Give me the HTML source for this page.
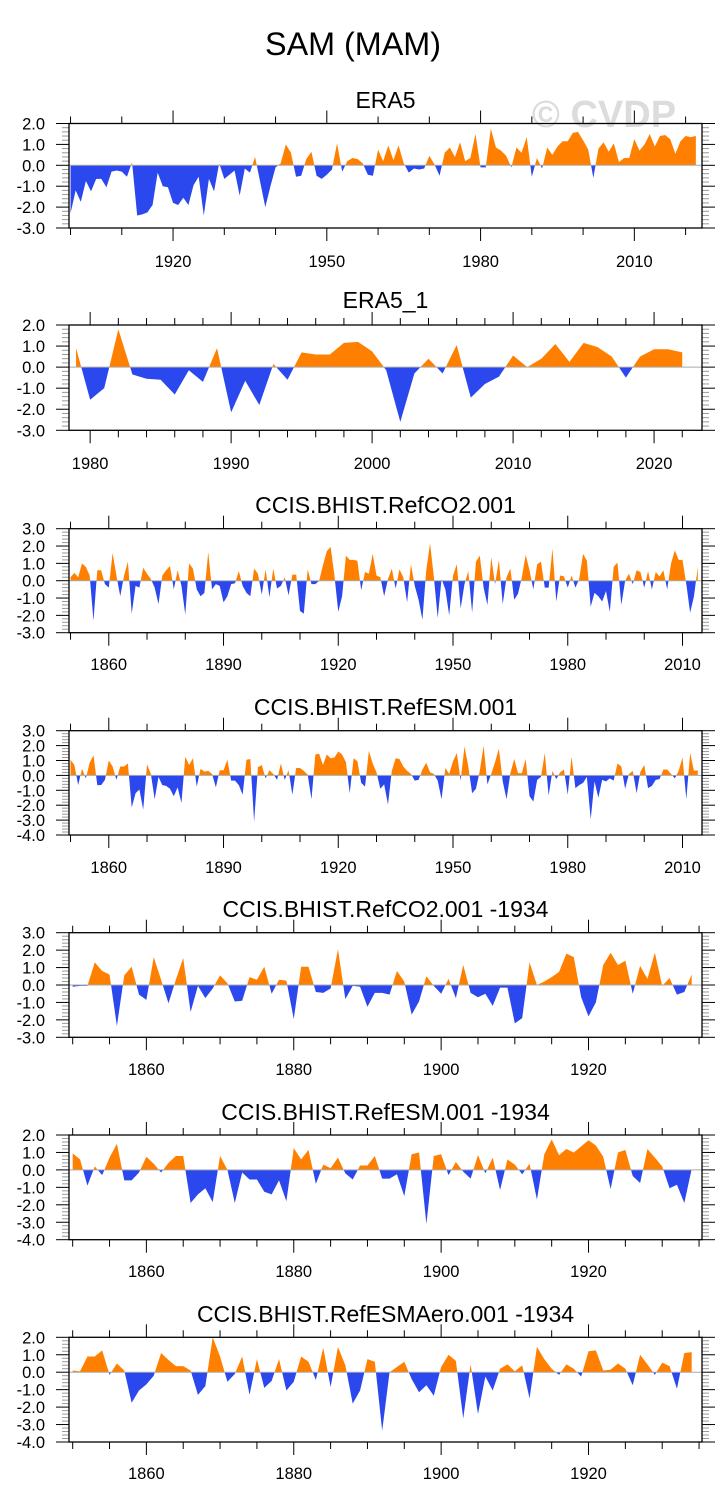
<!DOCTYPE html>
<html><head><meta charset="utf-8"><style>
html,body{margin:0;padding:0;background:#fff;}
svg{display:block;font-family:"Liberation Sans",Arial,sans-serif;}
</style></head><body>
<svg id="chart" width="728" height="1510" viewBox="0 0 728 1510" xmlns="http://www.w3.org/2000/svg">
<text x="353" y="55" font-size="32" text-anchor="middle" textLength="176" lengthAdjust="spacingAndGlyphs">SAM (MAM)</text>
<text x="604" y="127" font-size="38" font-weight="bold" fill="#dcdcdc" text-anchor="middle">© CVDP</text>
</svg>
<script>
const era5Start = 1900;
const era5Values = [-2.3,-1.2,-1.75,-0.75,-1.25,-0.65,-0.65,-1.05,-0.3,-0.25,-0.3,-0.55,0.15,-2.4,-2.35,-2.25,-1.9,-0.35,-1.0,-1.05,-1.8,-1.9,-1.55,-1.9,-0.95,-0.55,-2.4,-0.65,-1.25,0.1,-0.65,-0.45,-0.25,-1.45,-0.15,-0.35,0.4,-0.8,-2.0,-1.0,-0.1,0.1,1.0,0.6,-0.55,-0.5,0.3,0.65,-0.5,-0.65,-0.45,-0.2,1.05,-0.3,0.2,0.35,0.3,0.1,-0.45,-0.5,0.75,0.2,0.95,0.25,0.95,0.1,-0.35,-0.15,-0.2,-0.15,0.45,0.05,-0.5,0.6,0.85,0.4,1.1,0.2,0.35,1.5,-0.1,-0.1,1.75,0.85,0.7,0.45,-0.1,0.85,0.6,1.35,-0.55,0.35,-0.15,0.85,0.5,0.9,1.15,1.15,1.55,1.6,1.2,0.75,-0.6,0.8,1.1,0.65,1.05,0.15,0.35,0.35,1.25,0.7,1.0,1.5,0.9,1.4,1.45,1.25,0.55,1.15,1.4,1.35,1.4];
const era51Start = 1979;
const era51Values = [0.9,-1.55,-1.0,1.8,-0.35,-0.55,-0.6,-1.3,-0.15,-0.7,0.9,-2.15,-0.65,-1.8,0.15,-0.6,0.7,0.6,0.6,1.15,1.2,0.75,-0.15,-2.6,-0.3,0.4,-0.3,1.05,-1.45,-0.8,-0.45,0.55,0.0,0.4,1.1,0.25,1.15,0.95,0.5,-0.5,0.5,0.85,0.85,0.7];
const co2Start = 1850;
const co2Values = [0.2,0.45,0.2,1.0,0.8,0.3,-2.3,0.6,0.6,-0.2,-0.4,1.6,0.3,-0.9,0.3,1.1,-1.9,-0.3,-0.4,0.75,0.4,0.1,-0.4,-1.35,0.3,0.6,0.85,-0.5,0.6,-0.3,-1.95,1.0,0.7,-0.5,-0.9,-0.7,1.65,-0.5,-0.2,-0.3,-1.25,-0.9,-0.2,-0.15,0.55,-0.3,-0.7,-0.9,0.7,0.4,-0.8,0.65,-0.95,0.7,-0.45,-0.3,0.2,-0.85,0.35,0.35,-1.75,-1.9,0.65,-0.2,-0.2,0.0,0.9,1.7,1.95,0.3,-1.8,-0.9,1.45,1.2,1.2,1.15,-0.55,0.5,0.4,1.55,0.3,0.2,-0.9,0.1,0.7,-0.45,0.65,0.2,-1.25,0.95,-0.3,-1.1,-2.25,0.6,2.15,0.2,-2.15,0.1,-0.5,-2.0,0.3,0.95,-1.6,-0.2,0.55,-1.85,1.1,1.45,-0.4,-1.4,1.35,-0.2,1.2,-1.35,0.2,0.7,-1.1,-0.75,0.2,1.5,0.6,-0.5,0.95,1.1,-0.4,-0.4,1.85,-1.2,0.3,0.25,-0.4,0.3,-0.4,0.1,1.55,1.15,-1.5,-0.7,-0.9,-1.2,-0.6,-1.8,0.8,1.05,-1.4,0.0,0.4,-0.2,0.6,0.5,-0.4,0.55,-0.5,0.5,0.25,0.6,-0.5,1.0,1.75,1.2,1.2,-0.2,-1.85,-0.9,0.8];
const esmStart = 1850;
const esmValues = [1.05,0.7,-0.65,0.45,-0.2,0.85,1.35,-0.65,-0.65,-0.3,1.0,0.6,-0.3,0.6,0.6,0.8,-2.15,-1.2,-0.95,-2.3,0.75,0.1,-1.6,-0.1,-0.65,-0.7,-0.9,-1.4,-0.8,-1.85,1.25,0.7,1.15,-0.75,0.45,0.25,0.3,0.1,-0.8,0.35,0.35,1.05,-0.35,-0.35,-0.65,-1.3,1.05,1.1,-3.1,0.55,0.7,-0.2,0.35,0.1,-0.3,0.8,-0.3,0.35,-1.3,0.5,0.5,0.3,0.05,-1.6,1.4,1.45,0.7,1.4,1.15,1.2,1.6,1.4,0.9,-1.2,1.15,0.95,-0.5,-0.75,1.65,0.8,0.2,-0.9,-0.6,-1.95,0.3,1.15,1.1,0.6,0.3,0.1,-0.35,-0.3,0.4,0.85,0.2,0.1,-0.35,-1.6,0.5,0.1,0.95,1.5,-0.35,1.95,0.6,-1.2,-0.9,0.3,2.0,-0.6,0.1,0.9,1.8,-0.4,-1.6,0.15,1.1,0.15,0.15,1.1,-1.4,-1.75,-0.3,-0.1,1.5,-1.35,0.3,-0.25,0.2,0.4,-1.3,1.25,-0.85,-0.65,-0.5,-0.1,-2.95,-0.4,-1.5,-0.3,-0.4,-0.2,-0.35,0.8,0.6,-0.9,0.1,0.3,-1.2,0.25,0.7,-0.85,-0.7,-0.3,-0.25,0.4,0.4,0.1,-0.2,0.3,1.2,-1.6,1.5,0.3,0.35];
const co2_1934Start = 1850;
const co2_1934Values = [-0.1,-0.05,-0.05,1.3,0.8,0.6,-2.35,0.55,1.05,-0.55,-0.85,1.6,0.3,-1.05,0.3,1.55,-1.55,-0.05,-0.75,-0.2,0.55,0.1,-0.95,-0.9,0.45,0.3,1.05,-0.5,0.3,0.25,-1.95,1.05,1.05,-0.4,-0.45,-0.2,2.05,-0.8,-0.05,-0.1,-1.25,-0.45,-0.45,-0.55,0.8,0.2,-1.7,-0.95,0.5,-0.05,-0.5,0.35,-0.75,1.15,-0.45,-0.7,-0.5,-1.2,-0.15,-0.15,-2.2,-1.9,1.3,0.0,0.2,0.45,0.75,1.8,1.6,-0.7,-1.8,-1.0,1.15,1.85,1.15,1.4,-0.5,1.1,0.35,1.85,-0.05,0.4,-0.55,-0.4,0.6];
const esm_1934Start = 1850;
const esm_1934Values = [0.95,0.6,-0.9,0.2,-0.3,0.7,1.5,-0.6,-0.6,-0.15,0.75,0.35,-0.15,0.4,0.8,0.8,-1.9,-1.4,-1.05,-1.85,0.8,0.0,-1.9,-0.15,-0.55,-0.55,-1.25,-1.4,-0.6,-1.8,1.25,0.6,1.15,-0.8,0.3,0.1,0.7,-0.2,-0.55,0.25,0.25,0.8,-0.5,-0.5,-0.25,-1.5,0.9,1.0,-3.1,0.8,0.9,-0.3,0.45,-0.1,-0.5,0.85,-0.2,0.7,-1.15,0.6,0.3,-0.25,0.35,-1.7,0.9,1.75,0.85,1.2,1.0,1.35,1.7,1.4,0.75,-1.1,1.0,1.15,-0.35,-0.75,1.2,0.7,0.2,-1.05,-0.85,-1.9,0.05];
const aero_1934Start = 1850;
const aero_1934Values = [0.1,0.05,0.9,0.9,1.25,-0.15,0.5,0.1,-1.75,-1.05,-0.7,-0.2,1.1,0.7,0.35,0.35,0.1,-1.3,-0.8,2.0,0.9,-0.55,-0.1,0.9,-1.3,0.75,-0.9,-0.5,0.75,-1.05,-0.55,0.9,0.6,-0.45,1.4,-0.85,1.45,0.4,-1.8,-1.05,0.75,0.6,-3.35,0.0,0.3,0.6,-0.4,-1.15,-0.75,-1.35,0.3,1.0,0.65,-2.65,0.45,-2.4,-0.25,-1.05,0.2,0.45,0.05,0.4,-1.5,1.45,0.75,0.2,-0.15,0.45,0.2,-0.25,1.2,1.25,0.1,0.15,0.5,0.2,-0.75,1.0,0.45,-0.15,0.55,0.35,-0.95,1.1,1.15];
const yTicksA = ["2.0","1.0","0.0","-1.0","-2.0","-3.0"];
const yTicksB = ["3.0","2.0","1.0","0.0","-1.0","-2.0","-3.0"];
const yTicksC = ["3.0","2.0","1.0","0.0","-1.0","-2.0","-3.0","-4.0"];
const yTicksD = ["2.0","1.0","0.0","-1.0","-2.0","-3.0","-4.0"];
const xTicks1 = [1920,1950,1980,2010];
const xTicks2 = [1980,1990,2000,2010,2020];
const xTicks3 = [1860,1890,1920,1950,1980,2010];
const xTicks5 = [1860,1880,1900,1920];

const NS = "http://www.w3.org/2000/svg";
const svg = document.getElementById('chart');
function mk(tag, attrs, parent){const e=document.createElementNS(NS,tag);for(const k in attrs)e.setAttribute(k,attrs[k]);(parent||svg).appendChild(e);return e;}

const L=69, R=702;
const panels = [
 {name:'era5',title:'ERA5',top:123.5,bot:228,ymax:2,ymin:-3,yt:yTicksA,x0:1899.7,x1:2023.2,start:era5Start,vals:era5Values,xt:xTicks1,minor:10,tY:108,lY:267},
 {name:'era5-1',title:'ERA5_1',top:325,bot:430.3,ymax:2,ymin:-3,yt:yTicksA,x0:1978.5,x1:2023.4,start:era51Start,vals:era51Values,xt:xTicks2,minor:2,tY:308,lY:469},
 {name:'refco2',title:'CCIS.BHIST.RefCO2.001',top:528.7,bot:632.7,ymax:3,ymin:-3,yt:yTicksB,x0:1849.6,x1:2015.1,start:co2Start,vals:co2Values,xt:xTicks3,minor:10,tY:513,lY:670},
 {name:'refesm',title:'CCIS.BHIST.RefESM.001',top:730.7,bot:835,ymax:3,ymin:-4,yt:yTicksC,x0:1849.6,x1:2015.1,start:esmStart,vals:esmValues,xt:xTicks3,minor:10,tY:715,lY:873},
 {name:'refco2-1934',title:'CCIS.BHIST.RefCO2.001 -1934',top:932.7,bot:1037.3,ymax:3,ymin:-3,yt:yTicksB,x0:1849.5,x1:1935.4,start:co2_1934Start,vals:co2_1934Values,xt:xTicks5,minor:5,tY:917,lY:1075},
 {name:'refesm-1934',title:'CCIS.BHIST.RefESM.001 -1934',top:1135,bot:1239.7,ymax:2,ymin:-4,yt:yTicksD,x0:1849.5,x1:1935.4,start:esm_1934Start,vals:esm_1934Values,xt:xTicks5,minor:5,tY:1120,lY:1277},
 {name:'refesmaero-1934',title:'CCIS.BHIST.RefESMAero.001 -1934',top:1337.3,bot:1442,ymax:2,ymin:-4,yt:yTicksD,x0:1849.5,x1:1935.4,start:aero_1934Start,vals:aero_1934Values,xt:xTicks5,minor:5,tY:1322,lY:1479}
];

panels.forEach((p,pi)=>{
  const g=mk('g',{});
  
  
  const xs=v=>L+(v-p.x0)/(p.x1-p.x0)*(R-L);
  const ys=v=>p.top+(p.ymax-v)/(p.ymax-p.ymin)*(p.bot-p.top);
  const t=mk('text',{x:(L+R)/2,y:p.tY,'font-size':23,'text-anchor':'middle'},g);
  t.textContent=p.title;
  
  
  const y0=ys(0);
  let d='M'+xs(p.start)+','+y0;
  p.vals.forEach((v,i)=>{d+=' L'+xs(p.start+i).toFixed(2)+','+ys(v).toFixed(2);});
  d+=' L'+xs(p.start+p.vals.length-1).toFixed(2)+','+y0+' Z';
  const cpU=mk('clipPath',{id:'cu'+pi},g); mk('rect',{x:L,y:p.top,width:R-L,height:y0-p.top},cpU);
  const cpD=mk('clipPath',{id:'cd'+pi},g); mk('rect',{x:L,y:y0,width:R-L,height:p.bot-y0},cpD);
  const a1=mk('path',{d:d,fill:'#ff8000','clip-path':'url(#cu'+pi+')'},g);
  
  
  const a2=mk('path',{d:d,fill:'#2b47ee','clip-path':'url(#cd'+pi+')'},g);
  
  
  mk('line',{x1:L,x2:R,y1:y0,y2:y0,stroke:'#aaa','stroke-width':1},g);
  for(let v=p.ymin; v<=p.ymax+1e-6; v+=0.2){
    const yy=ys(v); const major=Math.abs(v-Math.round(v))<1e-6;
    const len=major?13:7, col=major?'#000':'#999';
    mk('line',{x1:L-len,x2:L,y1:yy,y2:yy,stroke:col,'stroke-width':1},g);
    mk('line',{x1:R,x2:R+len,y1:yy,y2:yy,stroke:col,'stroke-width':1},g);
  }
  p.yt.forEach(s=>{
    const tt=mk('text',{x:45,y:ys(parseFloat(s))+6,'font-size':16.5,'text-anchor':'end'},g);
    tt.textContent=s;
    
    
  });
  const majorStep=p.xt[1]-p.xt[0];
  const first=Math.ceil(p.x0/p.minor)*p.minor;
  for(let yr=first; yr<=p.x1; yr+=p.minor){
    const xx=xs(yr); const major=((yr-p.xt[0])%majorStep+majorStep)%majorStep===0;
    const len=major?13:7;
    mk('line',{x1:xx,x2:xx,y1:p.bot,y2:p.bot+len,stroke:'#000','stroke-width':1},g);
    mk('line',{x1:xx,x2:xx,y1:p.top-len,y2:p.top,stroke:'#000','stroke-width':1},g);
  }
  p.xt.forEach(yr=>{
    const tt=mk('text',{x:xs(yr),y:p.lY,'font-size':16.5,'text-anchor':'middle'},g);
    tt.textContent=yr;
    
    
  });
  const fr=mk('rect',{x:L,y:p.top,width:R-L,height:p.bot-p.top,fill:'none',stroke:'#000','stroke-width':1.3},g);
  
  
});
</script>
</body></html>
